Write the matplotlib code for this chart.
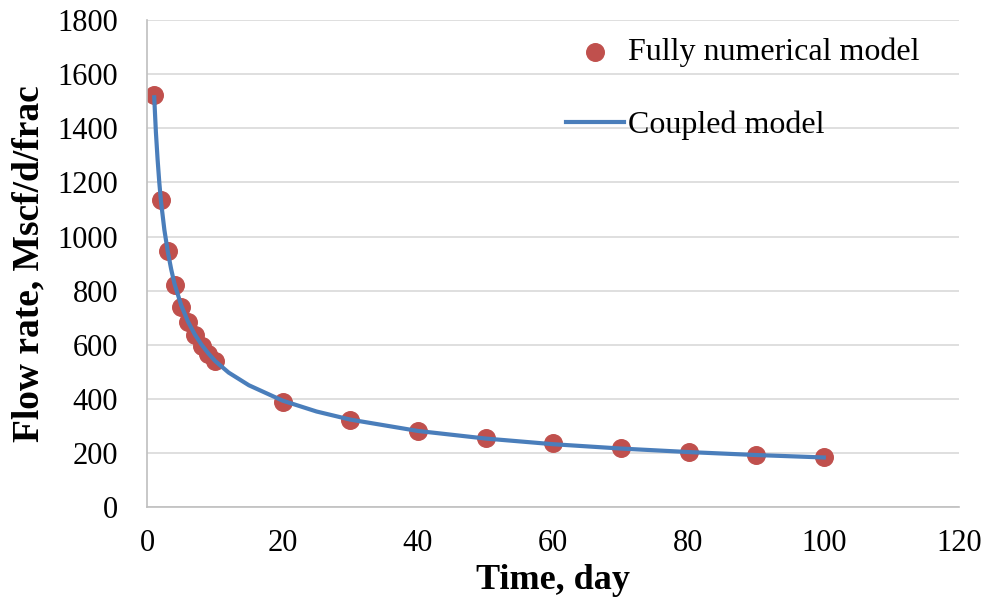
import numpy as np
import matplotlib
matplotlib.use('Agg')
import matplotlib.pyplot as plt

# fully numerical model (points)
num_days = [1, 2, 3, 4, 5, 6, 7, 8, 9, 10, 20, 30, 40, 50, 60, 70, 80, 90, 100]
num_rate = [1523, 1135, 946, 820, 739, 684, 636, 595, 565, 540,
            388, 321, 281, 255, 236, 218, 203, 192, 185]

# coupled model (line)
cpl_days = [1, 1.25, 1.5, 1.75, 2, 2.5, 3, 3.5, 4, 5, 6, 7, 8, 9, 10, 12, 15,
            20, 25, 30, 40, 50, 60, 70, 80, 90, 100]
cpl_rate = [1515, 1385, 1285, 1200, 1130, 1025, 945, 880, 825, 745, 685, 638,
            600, 568, 540, 497, 450, 393, 353, 323, 281, 253, 232, 216, 203,
            192, 183]

plt.rcParams['font.family'] = ['Liberation Serif', 'DejaVu Serif']

fig = plt.figure(figsize=(9.87, 6.13), dpi=100)
ax = fig.add_axes([0.1494, 0.173, 0.8223, 0.794])

ax.plot(cpl_days, cpl_rate, color='#4a7ebb', lw=3, label='Coupled model',
        zorder=3, solid_joinstyle='round')
ax.scatter(num_days, num_rate, s=160, color='#c0504d', zorder=2,
           label='Fully numerical model')

ax.set_xlim(0, 120)
ax.set_ylim(0, 1800)
ax.set_xticks(np.arange(0, 121, 20))
ax.set_yticks(np.arange(0, 1801, 200))
ax.yaxis.grid(True, color='#d9d9d9', lw=1.2)
ax.set_axisbelow(True)
for s in ['top', 'right']:
    ax.spines[s].set_visible(False)
for s in ['left', 'bottom']:
    ax.spines[s].set_color('#bfbfbf')
    ax.spines[s].set_linewidth(1.2)
ax.tick_params(length=0, labelsize=22, pad=16)
ax.tick_params(axis='y', pad=21)

ax.set_xlabel('Time, day', fontsize=26, fontweight='bold', labelpad=4)
ax.set_ylabel('Flow rate, Mscf/d/frac', fontsize=27, fontweight='bold', labelpad=8)

h, l = ax.get_legend_handles_labels()
ax.legend(h[::-1], l[::-1], loc='upper left', bbox_to_anchor=(0.5, 0.99),
          frameon=False, fontsize=23, labelspacing=1.35, handlelength=1.8,
          handletextpad=0.15, borderaxespad=0)

fig.savefig('out.png', dpi=100)
